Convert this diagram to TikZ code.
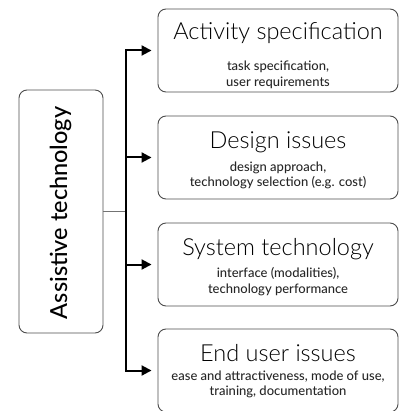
\documentclass[tikz,border=0pt]{standalone}
\usepackage{fontspec}
\setmainfont{Lato}
\newfontfamily\latolight{Lato Light}
\newfontfamily\latomed{Lato Medium}
\usetikzlibrary{arrows.meta}
\begin{document}
\begin{tikzpicture}[x=1pt,y=-1pt,
  box/.style={draw=black!70, line width=0.9pt, rounded corners=8pt, inner sep=0pt,
    minimum width=240pt, minimum height=83pt},
  ttl/.style={anchor=base, font=\latolight\fontsize{23.5}{27}\selectfont, text=black, inner sep=0pt},
  sub/.style={anchor=base, font=\latomed\fontsize{13}{15.5}\selectfont, align=center, text=black!85, inner sep=0pt},
  bus/.style={line width=2pt, black, line cap=rect},
  arr/.style={line width=2pt, black, -{Triangle[length=10pt,width=10pt]}, shorten >=6pt},
]
\useasboundingbox (0,0) rectangle (399,411);
% left box
\node[box, minimum width=84pt, minimum height=243pt] (at) at (61,211.5) {};
\node[rotate=90, anchor=base, inner sep=0pt, font=\latomed\fontsize{23.5}{27}\selectfont, text=black] (att) at (67,213) {Assistive technology};
% right boxes
\node[box] (b1) at (278,50.5) {};
\node[box] (b2) at (278,157.5) {};
\node[box] (b3) at (278,264.5) {};
\node[box] (b4) at (278,370.5) {};
\node[ttl] (t1) at (278,40) {Activity specification};
\node[sub] (s1) at (278,86.5) {task specification,\\user requirements};
\node[ttl] (t2) at (278,149) {Design issues};
\node[sub] (s2) at (278,187) {design approach,\\technology selection (e.g. cost)};
\node[ttl] (t3) at (278,255) {System technology};
\node[sub] (s3) at (278,293) {interface (modalities),\\technology performance};
\node[ttl] (t4) at (278,361) {End user issues};
\node[sub] (s4) at (278,395.5) {ease and attractiveness, mode of use,\\training, documentation};
% connectors
\coordinate (j1) at (126,50.5);
\coordinate (j2) at (126,157.5);
\coordinate (j3) at (126,264.5);
\coordinate (j4) at (126,370.5);
\coordinate (jm) at (at.east -| j1);
\draw[black!55, line width=0.8pt] (at.east) -- (jm);
\draw[bus] (j1) -- (j4);
\draw[arr] (j1) -- (b1.west);
\draw[arr] (j2) -- (b2.west);
\draw[arr] (j3) -- (b3.west);
\draw[arr] (j4) -- (b4.west);
\end{tikzpicture}
\end{document}
